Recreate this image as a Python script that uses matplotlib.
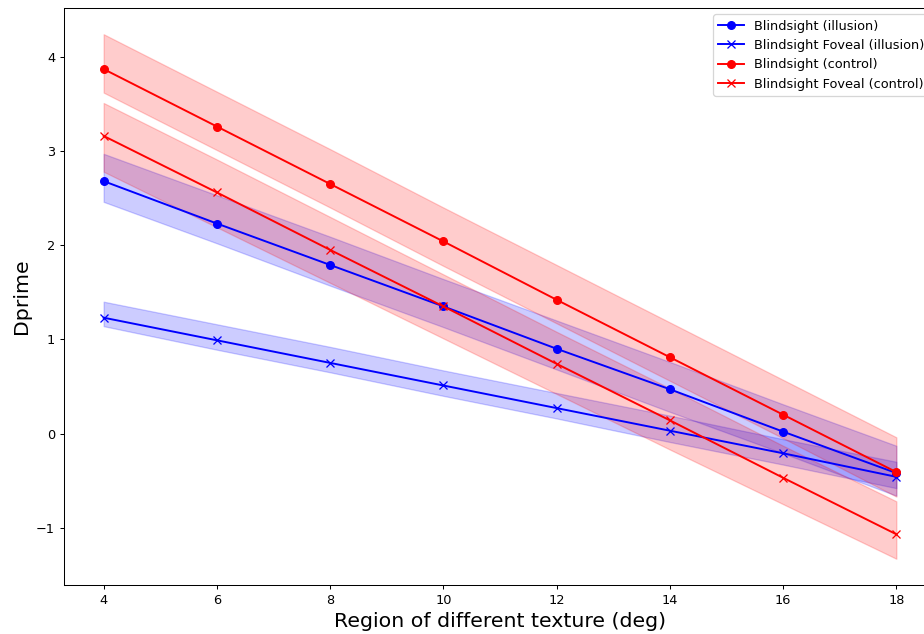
import matplotlib
matplotlib.use("Agg")
import matplotlib.pyplot as plt
import numpy as np

# x positions (deg)
region = [4, 6, 8, 10, 12, 14, 16, 18]

# Blindsight (illusion)
bs_ill = [2.68, 2.23, 1.79, 1.35, 0.90, 0.47, 0.02, -0.42]
bs_ill_hi = [2.97, 2.53, 2.09, 1.64, 1.20, 0.76, 0.31, -0.13]
bs_ill_lo = [2.46, 2.02, 1.57, 1.13, 0.68, 0.23, -0.21, -0.66]

# Blindsight Foveal (illusion)
fov_ill = [1.23, 0.99, 0.75, 0.51, 0.27, 0.03, -0.21, -0.46]
fov_ill_hi = [1.40, 1.16, 0.92, 0.67, 0.43, 0.19, -0.06, -0.30]
fov_ill_lo = [1.14, 0.89, 0.65, 0.40, 0.16, -0.09, -0.33, -0.58]

# Blindsight (control)
bs_ctl = [3.87, 3.26, 2.65, 2.04, 1.42, 0.81, 0.20, -0.41]
bs_ctl_hi = [4.24, 3.63, 3.02, 2.40, 1.79, 1.18, 0.57, -0.04]
bs_ctl_lo = [3.62, 3.01, 2.40, 1.78, 1.17, 0.56, -0.05, -0.67]

# Blindsight Foveal (control)
fov_ctl = [3.16, 2.56, 1.95, 1.35, 0.74, 0.14, -0.47, -1.07]
fov_ctl_hi = [3.51, 2.91, 2.30, 1.69, 1.08, 0.48, -0.13, -0.72]
fov_ctl_lo = [2.78, 2.19, 1.60, 1.01, 0.42, -0.17, -0.75, -1.33]

# original looks like a 10in figure shrunk to 924 px, so use dpi 92.4
fig = plt.figure(figsize=(10, 634 / 92.4), dpi=92.4)
# axes runs a bit past the right edge, like the cropped original
ax = fig.add_axes([64 / 924, 1 - 585 / 634, 872 / 924, 577 / 634])

series = [
    (bs_ill, bs_ill_lo, bs_ill_hi, "blue", "o", "Blindsight (illusion)"),
    (fov_ill, fov_ill_lo, fov_ill_hi, "blue", "x", "Blindsight Foveal (illusion)"),
    (bs_ctl, bs_ctl_lo, bs_ctl_hi, "red", "o", "Blindsight (control)"),
    (fov_ctl, fov_ctl_lo, fov_ctl_hi, "red", "x", "Blindsight Foveal (control)"),
]

for y, lo, hi, col, mk, lab in series:
    ax.plot(region, y, color=col, marker=mk, label=lab)
    ax.fill_between(region, lo, hi, color=col, alpha=0.2)

ax.set_xticks(region)
ax.set_xlabel("Region of different texture (deg)", fontsize=16)
ax.set_ylabel("Dprime", fontsize=16)
ax.legend(loc="upper right")

fig.savefig("out.png", dpi=92.4)
